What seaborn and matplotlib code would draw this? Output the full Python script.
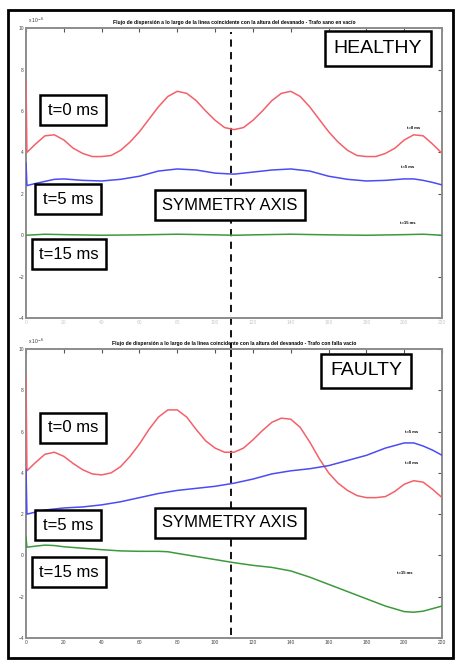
import matplotlib
matplotlib.use('Agg')
import matplotlib.pyplot as plt
from matplotlib.patches import Rectangle
import numpy as np
import pandas as pd
import seaborn as sns

# Leakage flux along the line at winding height (x 10^-6)
x_h = [0, 0.5, 5, 10, 15, 20, 25, 30, 35, 40, 45, 50, 55, 60, 65, 70, 75, 80, 85, 90, 95,
       100, 105, 110, 115, 120, 125, 130, 135, 140, 145, 150, 155, 160, 165, 170, 175,
       180, 185, 190, 195, 200, 205, 210, 215, 220]
healthy_t0 = [7.4, 4.0, 4.4, 4.8, 4.85, 4.6, 4.2, 3.95, 3.8, 3.8, 3.85, 4.1, 4.5, 5.0, 5.6,
              6.2, 6.7, 6.95, 6.85, 6.5, 6.0, 5.55, 5.2, 5.1, 5.2, 5.55, 6.0, 6.5, 6.85, 6.95,
              6.7, 6.2, 5.6, 5.0, 4.5, 4.1, 3.85, 3.8, 3.8, 3.95, 4.2, 4.6, 4.85, 4.8, 4.4, 3.95]

x_h5 = [0, 0.5, 5, 10, 15, 20, 30, 40, 50, 60, 70, 80, 90, 100, 110, 120, 130, 140, 150,
        160, 170, 180, 190, 200, 205, 210, 215, 220]
healthy_t5 = [3.5, 2.4, 2.5, 2.6, 2.7, 2.72, 2.65, 2.62, 2.7, 2.85, 3.1, 3.2, 3.15, 3.0, 2.95,
              3.05, 3.15, 3.2, 3.1, 2.85, 2.7, 2.62, 2.65, 2.72, 2.72, 2.65, 2.55, 2.43]

x_h15 = [0, 10, 20, 40, 60, 80, 100, 110, 120, 140, 160, 180, 200, 210, 220]
healthy_t15 = [0.0, 0.05, 0.03, 0.0, 0.02, 0.05, 0.02, 0.0, 0.02, 0.05, 0.02, 0.0, 0.03, 0.05, 0.0]

x_f = x_h
faulty_t0 = [8.7, 4.1, 4.5, 4.9, 5.0, 4.8, 4.45, 4.15, 3.95, 3.9, 4.0, 4.3, 4.8, 5.4, 6.1,
             6.7, 7.05, 7.05, 6.7, 6.1, 5.55, 5.2, 5.0, 5.0, 5.2, 5.6, 6.05, 6.45, 6.65, 6.6,
             6.2, 5.5, 4.7, 4.0, 3.5, 3.15, 2.9, 2.8, 2.8, 2.85, 3.1, 3.45, 3.62, 3.55, 3.2, 2.8]

x_f5 = [0, 0.5, 5, 10, 20, 30, 40, 50, 60, 70, 80, 90, 100, 110, 120, 130, 140, 150, 160,
        170, 180, 190, 200, 205, 210, 215, 220]
faulty_t5 = [4.2, 2.0, 2.1, 2.2, 2.3, 2.35, 2.45, 2.6, 2.8, 3.0, 3.15, 3.25, 3.35, 3.5, 3.7,
             3.95, 4.1, 4.2, 4.35, 4.6, 4.85, 5.2, 5.45, 5.45, 5.3, 5.1, 4.85]

x_f15 = [0, 0.5, 5, 10, 15, 20, 30, 40, 50, 60, 70, 75, 80, 90, 100, 110, 120, 130, 140,
         150, 160, 170, 180, 190, 200, 205, 210, 220]
faulty_t15 = [0.9, 0.4, 0.45, 0.5, 0.48, 0.42, 0.35, 0.28, 0.22, 0.2, 0.2, 0.18, 0.1, -0.05,
              -0.2, -0.35, -0.48, -0.58, -0.75, -1.05, -1.4, -1.75, -2.1, -2.45, -2.72, -2.75,
              -2.7, -2.45]

symmetry_x = 108.5
titles = ['Flujo de dispersión a lo largo de la línea coincidente con la altura del devanado - Trafo sano en vacío',
          'Flujo de dispersión a lo largo de la línea coincidente con la altura del devanado - Trafo con falla vacío']
states = ['HEALTHY', 'FAULTY']

sns.set_style('white')
plt.rcParams['font.family'] = ['Liberation Sans', 'DejaVu Sans']
plt.rcParams['text.color'] = 'black'

RED, BLUE, GREEN = '#f4606a', '#4a4cf4', '#3c9a3c'
AXGRAY = '#8c8c8c'

fig = plt.figure(figsize=(4.56, 6.6), dpi=100)
ax1 = fig.add_axes([0.0570, 0.518, 0.9125, 0.4394])
ax2 = fig.add_axes([0.0570, 0.0333, 0.9125, 0.4379])

box = dict(boxstyle='square,pad=0.45', fc='white', ec='black', lw=1.8)


def draw(ax, series, title, small_labels, faint_x):
    for xs, ys, c in series:
        sns.lineplot(x=xs, y=ys, ax=ax, color=c, linewidth=1.1, sort=False,
                     estimator=None, zorder=3)
    ax.set_xlim(0, 220)
    ax.set_ylim(-4, 10)
    ax.set_xticks(np.arange(0, 221, 20))
    ax.set_yticks(np.arange(-4, 11, 2))
    ax.tick_params(direction='in', length=3, width=0.8, color='#555555',
                   labelsize=3.5, labelcolor='#c8c8c8' if faint_x else '#444444',
                   top=True, right=True, pad=1.5, axis='x')
    ax.tick_params(direction='in', length=3, width=0.8, color='#555555',
                   labelsize=3.5, labelcolor='#444444', right=True, pad=1.5, axis='y')
    ax.set_xlabel('')
    ax.set_ylabel('')
    for sp in ax.spines.values():
        sp.set_color(AXGRAY)
        sp.set_linewidth(1.4)
    ax.set_title(title, fontsize=3.6, fontweight='bold', pad=3)
    ax.text(0.005, 1.012, r'x 10$^{-6}$', transform=ax.transAxes, fontsize=3.5,
            ha='left', va='bottom', color='#333333')
    for txt, px, py in small_labels:
        ax.text(px, py, txt, fontsize=3.0, fontweight='bold', ha='center', va='center')


draw(ax1, [(x_h, healthy_t0, RED), (x_h5, healthy_t5, BLUE), (x_h15, healthy_t15, GREEN)],
     titles[0], [('t=0 ms', 205, 5.2), ('t=5 ms', 202, 3.3), ('t=15 ms', 202, 0.6)], True)
draw(ax2, [(x_f, faulty_t0, RED), (x_f5, faulty_t5, BLUE), (x_f15, faulty_t15, GREEN)],
     titles[1], [('t=5 ms', 204, 6.0), ('t=0 ms', 204, 4.5), ('t=15 ms', 200, -0.85)], False)

# panel state boxes
ax1.text(0.845, 0.93, states[0], transform=ax1.transAxes, fontsize=14,
         ha='center', va='center', bbox=box)
ax2.text(0.817, 0.924, states[1], transform=ax2.transAxes, fontsize=14,
         ha='center', va='center', bbox=box)

# box labels
for ax, pos in [(ax1, [(0.113, 0.717, 't=0 ms'), (0.101, 0.41, 't=5 ms'), (0.103, 0.22, 't=15 ms')]),
                (ax2, [(0.113, 0.727, 't=0 ms'), (0.101, 0.39, 't=5 ms'), (0.103, 0.228, 't=15 ms')])]:
    for tx, ty, s in pos:
        ax.text(tx, ty, s, transform=ax.transAxes, fontsize=12, ha='center', va='center', bbox=box)
ax1.text(0.49, 0.39, 'SYMMETRY AXIS', transform=ax1.transAxes, fontsize=12,
         ha='center', va='center', bbox=box)
ax2.text(0.49, 0.398, 'SYMMETRY AXIS', transform=ax2.transAxes, fontsize=12,
         ha='center', va='center', bbox=box)

# symmetry axis, dashed across both panels
ax1.axvline(symmetry_x, ymin=-0.11, ymax=0.985, color='black', ls=(0, (4, 3)), lw=1.3, clip_on=False)
ax2.axvline(symmetry_x, ymin=0.01, ymax=1.0, color='black', ls=(0, (4, 3)), lw=1.3, clip_on=False)

# outer frame
fig.add_artist(Rectangle((8 / 456, 0.003), 0.975, 0.982, transform=fig.transFigure,
                         fill=False, ec='black', lw=2))

plt.savefig('out.png', dpi=100)
